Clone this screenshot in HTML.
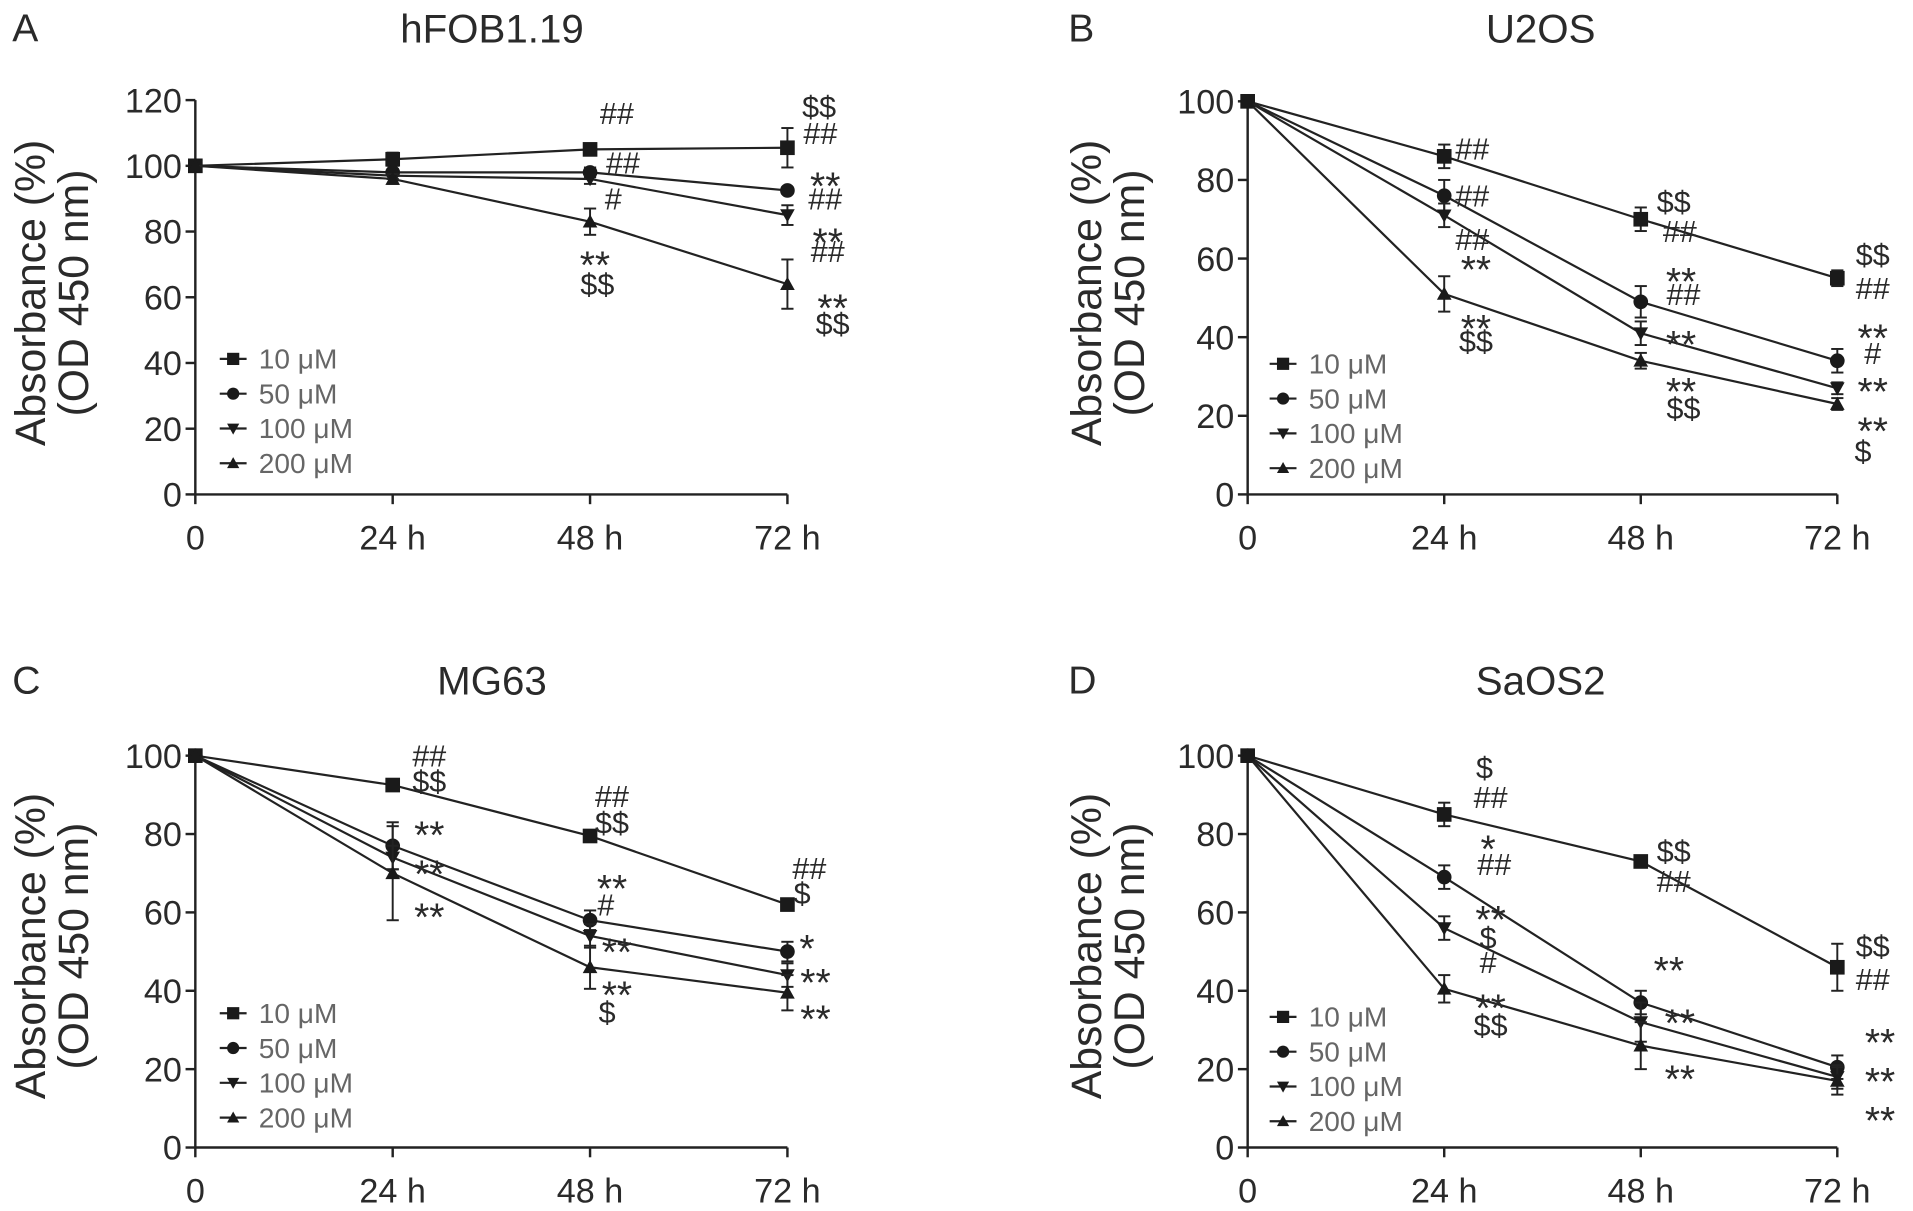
<!DOCTYPE html>
<html><head><meta charset="utf-8"><style>
html,body{margin:0;padding:0;background:#fff;}
svg{display:block;}
text{font-family:"Liberation Sans",Arial,sans-serif;fill:#2a2a2a;}
</style></head><body>
<svg id="fig" width="1913" height="1211" viewBox="0 0 1567 992" preserveAspectRatio="none" xmlns="http://www.w3.org/2000/svg"></svg>
<script>
// ---- data ----
const timeLabels = ["0","24 h","48 h","72 h"];
const seriesNames = ["10 μM","50 μM","100 μM","200 μM"];
const markers = ["square","circle","tri-down","tri-up"];
const panelIds = ["A","B","C","D"];
const panelTitles = ["hFOB1.19","U2OS","MG63","SaOS2"];
const yTicksA = [0,20,40,60,80,100,120];
const yTicksOther = [0,20,40,60,80,100];
const valsA10 = [100,102,105,105.5], valsA50 = [100,98,98,92.5], valsA100 = [100,97,96,85], valsA200 = [100,96,83,64];
const errA10 = [1,2,1.5,6], errA50 = [0,1,1.5,1], errA100 = [0,1,1.5,3], errA200 = [0,1.5,4,7.5];
const valsB10 = [100,86,70,55], valsB50 = [100,76,49,34], valsB100 = [100,71,41,27], valsB200 = [100,51,34,23];
const errB10 = [1,3,3,2], errB50 = [0,4,4,3], errB100 = [0,3,3,1.5], errB200 = [0,4.5,2,1.5];
const valsC10 = [100,92.5,79.5,62], valsC50 = [100,77,58,50], valsC100 = [100,74,54,44], valsC200 = [100,70,46,39.5];
const errC10 = [1,1,1.5,1], errC50 = [0,6,2.5,2.5], errC100 = [0,3,3,3], errC200 = [0,12,5.5,4.5];
const valsD10 = [100,85,73,46], valsD50 = [100,69,37,20.5], valsD100 = [100,56,32,18], valsD200 = [100,40.5,26,17];
const errD10 = [1,3,1,6], errD50 = [0,3,3,3], errD100 = [0,3,5,3], errD200 = [0,3.5,6,3.5];
// annotations: [time index, x offset px, value, text]
const annA = [[2,22,116,"##"],[2,27,101,"##"],[2,19,90,"#"],[2,4,72,"**"],[2,6,64,"$$"],
 [3,26,118,"$$"],[3,27,110,"##"],[3,31,96,"**"],[3,31,90,"##"],[3,33,79,"**"],[3,33,74,"##"],[3,37,59,"**"],[3,37,52,"$$"]];
const annB = [[1,23,88,"##"],[1,23,76,"##"],[1,23,65,"##"],[1,26,59,"**"],[1,26,44,"**"],[1,26,39,"$$"],
 [2,27,74.5,"$$"],[2,32,67,"##"],[2,33,56,"**"],[2,35,51,"##"],[2,33,40,"**"],[2,33,28,"**"],[2,35,22,"$$"],
 [3,29,61,"$$"],[3,29,52.5,"##"],[3,29,41.6,"**"],[3,29,36,"#"],[3,29,28,"**"],[3,29,18,"**"],[3,21,11,"$"]];
const annC = [[1,30,100,"##"],[1,30,93.5,"$$"],[1,30,81.6,"**"],[1,30,71.7,"**"],[1,30,60.7,"**"],
 [2,18,89.7,"##"],[2,18,83,"$$"],[2,18,68,"**"],[2,13,62,"#"],[2,22,51.7,"**"],[2,22,40.8,"**"],[2,14,34.6,"$"],
 [3,18,71.3,"##"],[3,12,65,"$"],[3,16,52.6,"*"],[3,23,44,"**"],[3,23,34.6,"**"]];
const annD = [[1,33,97,"$"],[1,38,89.4,"##"],[1,36,78,"*"],[1,41,72.3,"##"],[1,38,60,"**"],[1,36,53.6,"$"],[1,36,47.4,"#"],[1,38,37.4,"**"],[1,38,31.2,"$$"],
 [2,27,75.7,"$$"],[2,27,68,"##"],[2,23,47,"**"],[2,32,33.6,"**"],[2,32,19.3,"**"],
 [3,29,51.4,"$$"],[3,29,43,"##"],[3,35,28.7,"**"],[3,35,18.7,"**"],[3,35,8.7,"**"]];

const panelVals = [[valsA10,valsA50,valsA100,valsA200],[valsB10,valsB50,valsB100,valsB200],[valsC10,valsC50,valsC100,valsC200],[valsD10,valsD50,valsD100,valsD200]];
const panelErrs = [[errA10,errA50,errA100,errA200],[errB10,errB50,errB100,errB200],[errC10,errC50,errC100,errC200],[errD10,errD50,errD100,errD200]];
const panelAnn = [annA,annB,annC,annD];

// ---- layout ----
const layout = [
 {x0:160,x3:645,y0:405,ytop:82,ymax:120,ticks:yTicksA,lx:180,ly:294,title:403,ty:22,lab:10,ylab:240},
 {x0:1022,x3:1505,y0:405,ytop:83,ymax:100,ticks:yTicksOther,lx:1040,ly:298,title:1262,ty:22,lab:875,ylab:240},
 {x0:160,x3:645,y0:940,ytop:619,ymax:100,ticks:yTicksOther,lx:180,ly:830,title:403,ty:556,lab:10,ylab:775},
 {x0:1022,x3:1505,y0:940,ytop:619,ymax:100,ticks:yTicksOther,lx:1040,ly:833,title:1262,ty:556,lab:875,ylab:775}
];
const NS="http://www.w3.org/2000/svg";
const svg=document.getElementById('fig');
function mk(tag,attrs,parent){const e=document.createElementNS(NS,tag);for(const k in attrs)e.setAttribute(k,attrs[k]);(parent||svg).appendChild(e);return e;}
function marker(g,type,cx,cy,s){
 let e;
 if(type==="square") e=mk('rect',{x:cx-s,y:cy-s,width:2*s,height:2*s,fill:'#1a1a1a'},g);
 else if(type==="circle") e=mk('circle',{cx:cx,cy:cy,r:s,fill:'#1a1a1a'},g);
 else if(type==="tri-down") e=mk('polygon',{points:`${cx-s},${cy-s*0.8} ${cx+s},${cy-s*0.8} ${cx},${cy+s}`,fill:'#1a1a1a'},g);
 else e=mk('polygon',{points:`${cx-s},${cy+s*0.8} ${cx+s},${cy+s*0.8} ${cx},${cy-s}`,fill:'#1a1a1a'},g);
 return e;
}
layout.forEach((L,p)=>{
 const g=mk('g',{});
 
 
 const xs=i=>L.x0+(L.x3-L.x0)*i/3;
 const ys=v=>L.y0-(L.y0-L.ytop)*v/L.ymax;
 let t=mk('text',{x:L.lab,y:L.ty+12,'font-size':32},g); t.textContent=panelIds[p];
  
 t=mk('text',{x:L.title,y:L.ty+13,'font-size':33,'text-anchor':'middle'},g); t.textContent=panelTitles[p];
  
 // axes
 let a=mk('line',{x1:L.x0,y1:ys(0),x2:L.x0,y2:ys(L.ymax),stroke:'#222','stroke-width':2},g);
  
 a=mk('line',{x1:L.x0,y1:L.y0,x2:L.x3,y2:L.y0,stroke:'#222','stroke-width':2},g);
  
 L.ticks.forEach(v=>{
  mk('line',{x1:L.x0-8,y1:ys(v),x2:L.x0,y2:ys(v),stroke:'#222','stroke-width':2},g);
  const tt=mk('text',{x:L.x0-11,y:ys(v)+10,'font-size':28,'text-anchor':'end'},g); tt.textContent=v;
   
 });
 timeLabels.forEach((lb,i)=>{
  mk('line',{x1:xs(i),y1:L.y0,x2:xs(i),y2:L.y0+8,stroke:'#222','stroke-width':2},g);
  const tt=mk('text',{x:xs(i),y:L.y0+45,'font-size':28,'text-anchor':'middle'},g); tt.textContent=lb;
   
 });
 // y title
 const yt=mk('text',{transform:`translate(${L.lab+27},${L.ylab}) rotate(-90)`,'font-size':35,'text-anchor':'middle'},g);
 yt.textContent='Absorbance (%)';
  
 const yt2=mk('text',{transform:`translate(${L.lab+62},${L.ylab}) rotate(-90)`,'font-size':35,'text-anchor':'middle'},g);
 yt2.textContent='(OD 450 nm)';
  
 // series
 panelVals[p].forEach((vals,s)=>{
  const sg=mk('g',{},g);
  
  
  const pts=vals.map((v,i)=>xs(i)+','+ys(v)).join(' ');
  mk('polyline',{points:pts,fill:'none',stroke:'#222','stroke-width':1.8},sg);
  vals.forEach((v,i)=>{
   const e=panelErrs[p][s][i];
   if(e>0.8){
    mk('line',{x1:xs(i),y1:ys(v-e),x2:xs(i),y2:ys(v+e),stroke:'#222','stroke-width':1.6},sg);
    mk('line',{x1:xs(i)-5,y1:ys(v-e),x2:xs(i)+5,y2:ys(v-e),stroke:'#222','stroke-width':1.6},sg);
    mk('line',{x1:xs(i)-5,y1:ys(v+e),x2:xs(i)+5,y2:ys(v+e),stroke:'#222','stroke-width':1.6},sg);
   }
   const m=marker(sg,markers[s],xs(i),ys(v),6);
    
  });
 });
 // annotations
 panelAnn[p].forEach(an=>{
  const star=an[3].indexOf('*')>=0;
  const tt=mk('text',{x:xs(an[0])+an[1],y:ys(an[2])+(star?17:9),'font-size':star?32:25,'text-anchor':'middle'},g);
  tt.textContent=an[3];
   
 });
 // legend
 seriesNames.forEach((nm,s)=>{
  const y=L.ly+28.5*s;
  const lg=mk('g',{},g);
   
  mk('line',{x1:L.lx,y1:y,x2:L.lx+22,y2:y,stroke:'#222','stroke-width':1.8},lg);
  marker(lg,markers[s],L.lx+11,y,5);
  const tt=mk('text',{x:L.lx+32,y:y+8,'font-size':23,style:'fill:#666'},lg); tt.textContent=nm;
 });
});
</script>
</body></html>
